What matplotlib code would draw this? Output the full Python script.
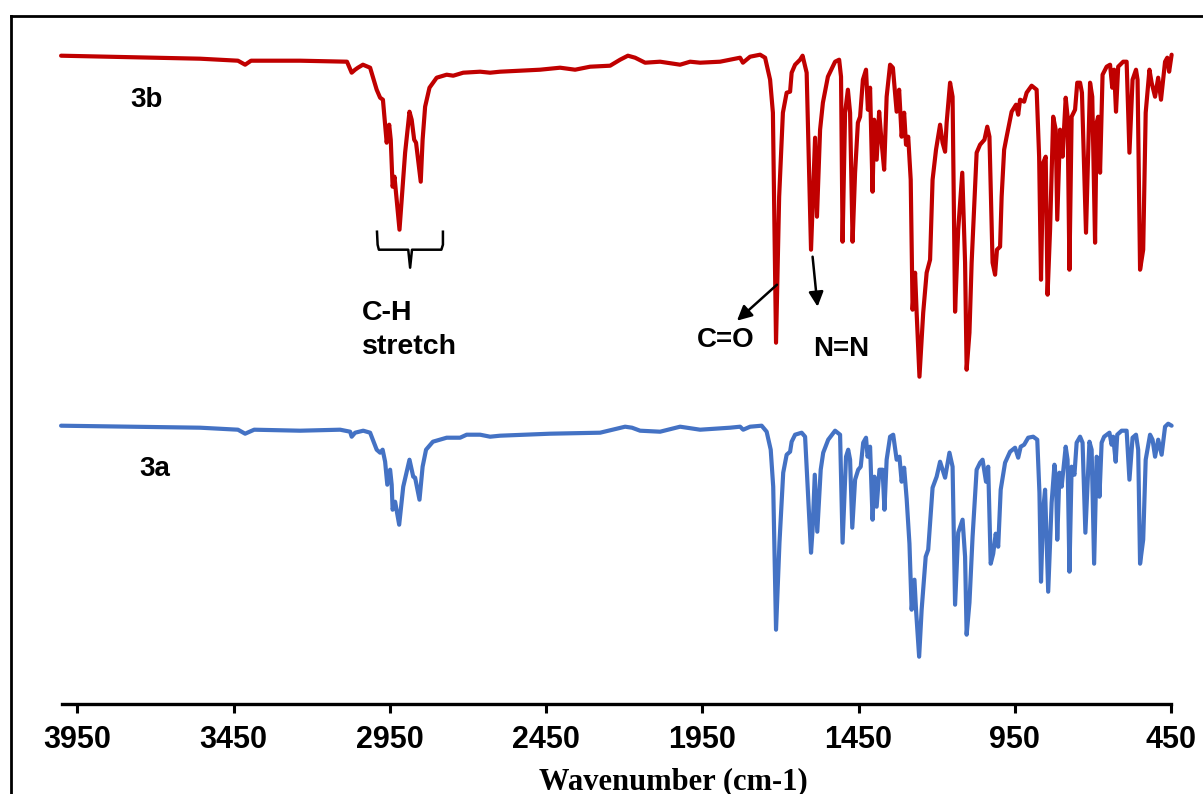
import matplotlib
matplotlib.use("Agg")
import matplotlib.pyplot as plt
from matplotlib.lines import Line2D

# ---------------- data ----------------
wn_3b = [4002, 3772, 3557, 3436, 3413, 3394, 3237, 3087, 3072, 3061, 3052, 3036, 3013,
         2992, 2981, 2972, 2960, 2952, 2947, 2941, 2935, 2919, 2912, 2901, 2887, 2880,
         2872, 2866, 2851, 2845, 2837, 2823, 2800, 2768, 2747, 2715, 2661, 2629, 2597,
         2469, 2405, 2357, 2309, 2245, 2213, 2188, 2165, 2133, 2085, 2021, 1989, 1957,
         1893, 1829, 1820, 1797, 1765, 1749, 1733, 1724, 1714, 1704, 1692, 1680, 1669,
         1664, 1653, 1637, 1629, 1616, 1602, 1596, 1589, 1583, 1573, 1564, 1548, 1525,
         1512, 1506, 1501, 1493, 1484, 1477, 1469, 1461, 1452, 1445, 1436, 1426, 1420,
         1413, 1405, 1400, 1392, 1384, 1376, 1368, 1360, 1349, 1340, 1328, 1320, 1312,
         1304, 1298, 1291, 1283, 1277, 1269, 1264, 1255, 1243, 1232, 1221, 1213, 1202,
         1189, 1181, 1173, 1168, 1157, 1149, 1141, 1131, 1118, 1109, 1104, 1095, 1088,
         1072, 1061, 1047, 1038, 1031, 1021, 1013, 1007, 997, 992, 984, 976, 960, 946,
         939, 933, 920, 912, 896, 880, 872, 866, 859, 851, 845, 837, 827, 819, 814, 805,
         797, 787, 781, 775, 768, 757, 750, 741, 735, 722, 709, 702, 693, 688, 683, 677,
         669, 656, 645, 638, 632, 626, 619, 603, 592, 583, 573, 562, 557, 549, 539, 531,
         519, 512, 501, 491, 482, 469, 462, 456, 448]
t_3b = [64.8, 64.65, 64.5, 64.3, 63.9, 64.3, 64.3, 64.2, 63.1, 63.4, 63.6, 63.9, 63.6,
        61.4, 60.6, 60.4, 56.1, 57.9, 56.4, 51.7, 52.7, 47.4, 50.4, 55.1, 59.2, 58.4,
        56.4, 56.1, 52.2, 56.4, 59.7, 61.6, 62.6, 62.9, 62.8, 63.1, 63.2, 63.1, 63.2,
        63.4, 63.6, 63.4, 63.7, 63.8, 64.4, 64.8, 64.6, 64.1, 64.2, 63.9, 64.2, 64.1,
        64.2, 64.6, 64.1, 64.7, 64.9, 64.6, 62.4, 59.1, 36.1, 50.7, 59.1, 61.1, 61.2,
        63.1, 63.9, 64.4, 64.8, 63.1, 45.4, 50.7, 56.6, 48.7, 57.4, 60.1, 62.7, 64.2,
        64.4, 62.7, 46.2, 59.1, 61.4, 59.1, 46.2, 53.1, 58.1, 58.7, 62.4, 63.4, 59.4,
        61.6, 51.2, 58.4, 54.4, 59.2, 56.1, 53.4, 60.7, 63.9, 63.6, 59.2, 61.4, 56.7,
        59.1, 55.9, 56.7, 52.4, 39.4, 43.1, 39.1, 32.7, 39.1, 43.1, 44.4, 52.4, 55.4,
        57.9, 56.1, 55.2, 58.1, 62.1, 60.7, 39.2, 47.4, 53.1, 44.1, 33.4, 37.1, 44.1,
        55.1, 55.9, 56.4, 57.7, 56.7, 44.1, 42.9, 45.4, 45.7, 50.7, 55.4, 56.7, 59.2, 59.9,
        58.9, 60.4, 60.2, 61.1, 61.8, 61.4, 54.7, 42.4, 54.1, 54.7, 40.9, 47.4, 58.7, 57.4, 48.4, 57.4,
        54.7, 60.6, 58.7, 43.4, 58.7, 59.4, 62.1, 62.1, 61.1, 47.1, 62.1, 60.7, 46.1, 58.1, 58.7, 53.1,
        62.9, 63.7, 63.9, 61.6, 63.4, 59.2, 63.7, 64.2, 64.2, 55.1, 62.4, 63.4, 62.4, 43.4, 45.4, 59.1,
        63.4, 62.1, 60.7, 62.6, 60.4, 64.2, 64.6, 63.2, 64.9]

wn_3a = [4002, 3772, 3557, 3436, 3413, 3384, 3237, 3109, 3077, 3072, 3061, 3035, 3013,
         2992, 2981, 2973, 2965, 2958, 2949, 2944, 2941, 2933, 2920, 2907, 2887, 2875,
         2869, 2855, 2845, 2834, 2812, 2768, 2725, 2704, 2661, 2629, 2597, 2437, 2277,
         2197, 2175, 2149, 2085, 2021, 1957, 1861, 1829, 1819, 1797, 1760, 1744, 1731,
         1723, 1714, 1703, 1691, 1680, 1669, 1664, 1653, 1632, 1621, 1602, 1597, 1590,
         1582, 1571, 1563, 1547, 1525, 1509, 1501, 1490, 1483, 1477, 1470, 1461, 1451,
         1443, 1435, 1426, 1421, 1413, 1405, 1399, 1392, 1383, 1373, 1367, 1360, 1349,
         1339, 1328, 1319, 1312, 1304, 1296, 1287, 1280, 1271, 1266, 1256, 1248, 1235,
         1227, 1213, 1200, 1189, 1181, 1173, 1159, 1149, 1141, 1131, 1117, 1109, 1104,
         1095, 1085, 1072, 1061, 1053, 1042, 1035, 1027, 1019, 1011, 1003, 995, 981, 965,
         949, 939, 931, 920, 907, 891, 878, 871, 866, 859, 853, 843, 832, 823, 818, 814,
         807, 800, 787, 781, 775, 768, 759, 752, 741, 733, 724, 711, 704, 696, 688, 683,
         679, 672, 664, 647, 640, 635, 627, 622, 608, 592, 583, 573, 562, 555, 549, 539,
         531, 517, 509, 501, 491, 480, 469, 459, 448]
t_3a = [27.8, 27.7, 27.6, 27.4, 27.0, 27.4, 27.3, 27.4, 27.2, 26.7, 27.1, 27.3, 27.1,
        25.4, 25.1, 25.4, 24.2, 21.9, 23.4, 21.9, 19.4, 20.2, 17.9, 21.7, 24.4, 22.7,
        22.6, 20.4, 23.7, 25.4, 26.2, 26.6, 26.6, 26.9, 26.9, 26.7, 26.8, 27.0, 27.1,
        27.7, 27.6, 27.3, 27.2, 27.7, 27.4, 27.6, 27.7, 27.4, 27.7, 27.8, 27.2, 25.4,
        21.7, 7.4, 16.1, 23.1, 24.9, 25.2, 26.2, 26.9, 27.1, 26.7, 15.1, 17.4, 22.9,
        17.2, 23.4, 25.1, 26.4, 27.3, 26.9, 16.1, 24.7, 25.4, 24.4, 17.6, 22.4, 23.4,
        23.7, 26.1, 26.6, 24.7, 25.7, 18.4, 22.7, 19.7, 23.4, 23.4, 19.4, 24.4, 26.7,
        26.9, 24.4, 24.7, 22.2, 23.6, 20.5, 16.0, 9.4, 12.4, 9.4, 4.7, 9.4, 14.7,
        15.4, 21.6, 22.7, 24.2, 23.4, 22.6, 25.1, 23.7, 9.9, 17.1, 18.4, 14.7, 6.9,
        10.1, 16.7, 23.4, 24.1, 24.4, 22.2, 23.7, 14.0, 15.0, 17.0, 15.7, 21.4, 24.1, 25.2,
        25.6, 24.6, 25.7, 25.9, 26.6, 26.7, 26.4, 21.1, 12.2, 19.4, 21.4, 11.2, 20.1, 23.9, 22.4, 16.4,
        23.1, 21.7, 25.7, 24.4, 13.2, 23.7, 22.9, 26.1, 26.7, 26.1, 17.1, 26.2, 25.4, 14.0, 24.7, 24.4,
        20.7, 26.1, 26.7, 27.1, 25.9, 26.7, 24.2, 26.9, 27.3, 27.3, 22.4, 26.6, 26.9, 25.4, 14.0, 16.4,
        24.4, 26.9, 26.4, 24.7, 26.4, 24.9, 27.7, 28.0, 27.8]

x_ticks = [3950, 3450, 2950, 2450, 1950, 1450, 950, 450]
x_label = "Wavenumber (cm-1)"

# ---------------- figure ----------------
W, H = 1203, 794
fig = plt.figure(figsize=(W / 100, H / 100), dpi=100)
ax = fig.add_axes([61.7 / W, (H - 703.7) / H, (1171 - 61.7) / W, 688.7 / H])

red = "#C00000"
blue = "#4472C4"
ax.plot(wn_3b, t_3b, color=red, lw=3.0, solid_joinstyle="round",
        solid_capstyle="round", clip_on=False)
ax.plot(wn_3a, t_3a, color=blue, lw=3.0, solid_joinstyle="round",
        solid_capstyle="round", clip_on=False)

ax.set_xlim(4000, 450)
ax.set_ylim(0, 68.87)

for s in ("left", "right", "top"):
    ax.spines[s].set_visible(False)
ax.spines["bottom"].set_linewidth(2.4)
ax.set_yticks([])
ax.set_xticks(x_ticks)
ax.set_xticklabels([str(v) for v in x_ticks])
ax.tick_params(axis="x", direction="out", length=6.5, width=2.2, pad=9,
               labelsize=22)
for lab in ax.get_xticklabels():
    lab.set_fontfamily("Liberation Sans")
    lab.set_fontweight("bold")

fig.text(673 / W, (H - 789) / H, x_label, ha="center", va="baseline",
         fontfamily="Liberation Serif", fontweight="bold", fontsize=22)

# annotations
txt = dict(fontfamily="Liberation Sans", fontweight="bold", fontsize=20,
           ha="center", va="center")
ax.text(3727, 60.4, "3b", **txt)
ax.text(3701, 23.5, "3a", **txt)
ax.text(1874, 36.4, "C=O", **txt)
ax.text(1504, 35.5, "N=N", **txt)
ax.text(3039, 37.4, "C-H\nstretch", fontfamily="Liberation Sans", fontweight="bold",
        fontsize=20.5, ha="left", va="center", linespacing=1.38)

arrow = dict(arrowstyle="-|>", color="black", lw=1.8, mutation_scale=22,
             shrinkA=0, shrinkB=0)
ax.annotate("", xy=(1839, 38.3), xytext=(1711, 41.9), arrowprops=arrow)
ax.annotate("", xy=(1581, 39.7), xytext=(1597, 44.7), arrowprops=arrow)

# curly bracket under the C-H bands
bx = [2991, 2989, 2985, 2891, 2885, 2879, 2785, 2780, 2780]
by = [47.2, 45.9, 45.4, 45.4, 43.6, 45.4, 45.4, 45.9, 47.2]
ax.plot(bx, by, color="black", lw=1.8, solid_joinstyle="round")

# outer frame (cropped on the right and bottom)
fig.add_artist(Line2D([10.5 / W, 10.5 / W], [0, (H - 15.5) / H], color="black",
                      lw=2.0, transform=fig.transFigure))
fig.add_artist(Line2D([10.5 / W, 1], [(H - 15.5) / H, (H - 15.5) / H], color="black",
                      lw=2.0, transform=fig.transFigure))

fig.savefig("out.png", dpi=100)
